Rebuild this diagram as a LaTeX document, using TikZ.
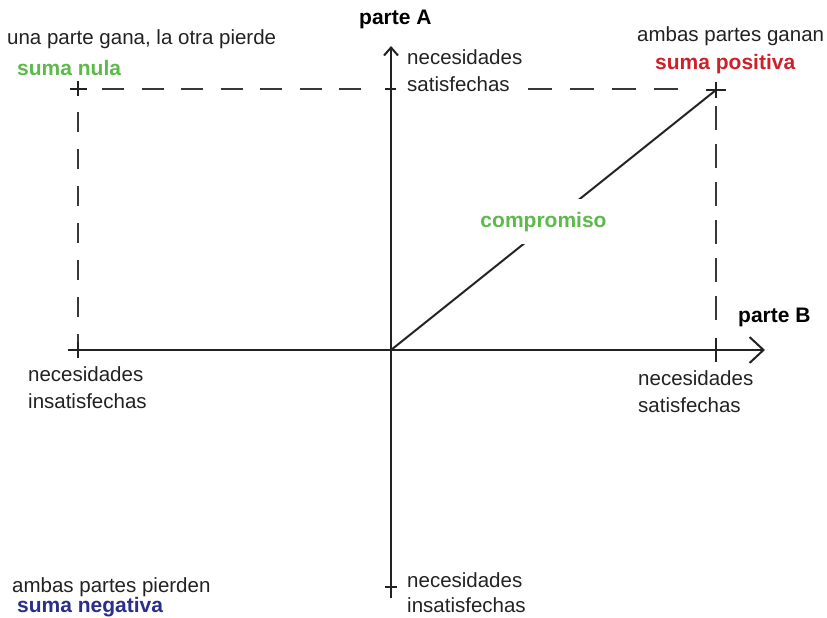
\documentclass[tikz,border=0pt]{standalone}
\usepackage{fontspec}
\setmainfont{Liberation Sans}
\usetikzlibrary{arrows.meta}
\definecolor{inkgray}{RGB}{34,34,34}
\definecolor{nulgreen}{RGB}{92,186,74}
\definecolor{posred}{RGB}{206,32,42}
\definecolor{negblue}{RGB}{42,46,140}
\begin{document}
\begin{tikzpicture}[x=1pt,y=-1pt,
  axisline/.style={line width=2pt,draw=inkgray},
  guide/.style={line width=2.2pt,draw=inkgray!90},
  tickmark/.style={line width=2pt,draw=inkgray},
  lbl/.style={font=\fontsize{20.5}{27}\selectfont,text=inkgray,inner sep=0pt,anchor=base west},
  hdr/.style={font=\fontsize{21}{27}\selectfont\bfseries,inner sep=0pt,anchor=base west}]
\useasboundingbox (0,0) rectangle (827,618);

% key points of the diagram
\coordinate (O) at (391,350);
\coordinate (xstart) at (68,350);
\coordinate (xend) at (765,350);
\coordinate (ystart) at (391,598);
\coordinate (yend) at (391,46);
\coordinate (NW) at (78,89);
\coordinate (NE) at (716,90);
\coordinate (W) at (78,350);
\coordinate (E) at (716,350);
\coordinate (N) at (391,89);
\coordinate (S) at (391,587);

% dashed frame of the winning/losing region
\draw[guide,dash pattern=on 22pt off 17.5pt] (102,89) -- (362,89);
\draw[guide,dash pattern=on 24pt off 18pt] (528,89) -- (684,89);
\draw[guide,dash pattern=on 20pt off 17pt] (78,112) -- (78,344);
\draw[guide,dash pattern=on 24pt off 14pt] (716,106) -- (716,322);

% axes
\draw[axisline,-{Straight Barb[length=14pt,width=26pt,line width=2pt]}] (xstart) -- (xend);
\draw[axisline,-{Straight Barb[length=8pt,width=14pt,line width=2pt]}] (ystart) -- (yend);

% tick marks and corner crosses
\draw[tickmark] ([xshift=-8pt]NW) -- ([xshift=9pt]NW) ([yshift=-7pt]NW) -- ([yshift=8pt]NW);
\draw[tickmark] ([xshift=-10pt]NE) -- ([xshift=10pt]NE) ([yshift=-8pt]NE) -- ([yshift=8pt]NE);
\draw[tickmark] ([yshift=-8pt]W) -- ([yshift=8pt]W);
\draw[tickmark] ([yshift=-12pt]E) -- ([yshift=12pt]E);
\draw[tickmark] ([xshift=-6pt]N) -- ([xshift=5pt]N);
\draw[tickmark] ([xshift=-6pt]S) -- ([xshift=6pt]S);

% compromise line, interrupted by its label
\draw[line width=2pt,draw=inkgray] (O) -- (NE);
\node[hdr,anchor=base,text=nulgreen,fill=white,inner xsep=3pt,inner ysep=13pt] (comp) at (543.5,227) {compromiso};

% axis titles
\node[hdr] (parteA) at (359,25) {parte A};
\node[hdr] (parteB) at (738,322) {parte B};

% quadrant captions
\node[lbl] (gana) at (7,45) {una parte gana, la otra pierde};
\node[hdr,text=nulgreen] (nula) at (17,75) {suma nula};
\node[lbl] (ganan) at (637,42) {ambas partes ganan};
\node[hdr,text=posred] (positiva) at (655,70) {suma positiva};
\node[lbl] (pierden) at (12,592) {ambas partes pierden};
\node[hdr,text=negblue] (negativa) at (17,612) {suma negativa};

% end-of-axis labels
\node[lbl] (topA) at (407,65) {necesidades};
\node[lbl] (topB) at (407,92) {satisfechas};
\node[lbl] (rightA) at (638,385) {necesidades};
\node[lbl] (rightB) at (638,412) {satisfechas};
\node[lbl] (leftA) at (28,381) {necesidades};
\node[lbl] (leftB) at (28,408) {insatisfechas};
\node[lbl] (botA) at (407,587) {necesidades};
\node[lbl] (botB) at (407,612) {insatisfechas};
\end{tikzpicture}
\end{document}
